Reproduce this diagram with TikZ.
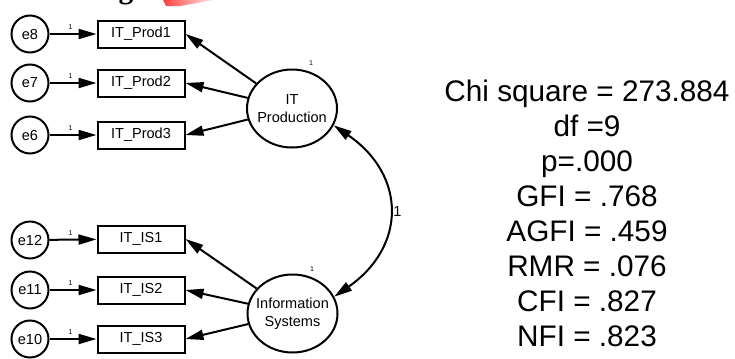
\documentclass[tikz,border=0pt]{standalone}
\usepackage{fontspec}
\setmainfont{Liberation Sans}
\newfontfamily\headfont{Liberation Serif}
\usetikzlibrary{arrows.meta,shapes.geometric}

\begin{document}
\begin{tikzpicture}[x=0.75pt,y=-0.75pt,
  line width=1.5pt,
  every node/.style={font=\fontsize{10.9}{13.5}\selectfont, inner sep=0pt},
  err/.style={draw, circle, minimum size=27.75pt},
  obs/.style={draw, rectangle, minimum width=65.25pt, minimum height=20.25pt},
  lat/.style={draw, ellipse, minimum width=67.5pt, minimum height=58.5pt},
  intxt/.style={align=center, font=\fontsize{10.9}{13.5}\selectfont},
  tip/.style={-{Triangle[length=13.5pt,width=7.5pt]}},
  both/.style={{Triangle[length=13.5pt,width=7.5pt]}-{Triangle[length=13.5pt,width=7.5pt]}},
  one/.style={font=\fontsize{5.3}{6}\selectfont},
  stat/.style={font=\fontsize{22.3}{26}\selectfont, anchor=base},
]
% page
\fill[white] (0,0) rectangle (735,354);

% remains of a heading cut off by the top edge
\begin{scope}
  \clip (0,0) rectangle (735,354);
  \begin{scope}
    \clip (163,0) -- (214,0) -- (180,6) -- (166,6) -- cycle;
    \shade[left color=red!75!white, right color=red!8!white] (163,0) rectangle (214,6);
  \end{scope}
  \node[anchor=base, font=\headfont\bfseries\fontsize{22}{22}\selectfont] (head) at (126,-1.5) {g};
\end{scope}

% indicators of IT Production
\node[obs] (p1) at (141,34)  {IT\_Prod1};
\node[obs] (p2) at (141,83)  {IT\_Prod2};
\node[obs] (p3) at (141,135) {IT\_Prod3};
\node[err] (e8) at (30,34)  {e8};
\node[err] (e7) at (30,83)  {e7};
\node[err] (e6) at (30,135) {e6};

% indicators of Information Systems
\node[obs] (s1) at (141,239) {IT\_IS1};
\node[obs] (s2) at (141,290) {IT\_IS2};
\node[obs] (s3) at (141,339) {IT\_IS3};
\node[err] (e12) at (30,240) {e12};
\node[err] (e11) at (30,290) {e11};
\node[err] (e10) at (30,339) {e10};

% latent factors
\node[lat, label={[intxt]center:IT\\Production}] (itp) at (292,108.5) {};
\node[lat, label={[intxt]center:Information\\Systems}] (isy) at (292.5,313.5) {};
\node[one] (v1) at (311,63) {1};
\node[one] (v2) at (312,269) {1};

% error terms
\foreach \e/\b in {e8/p1,e7/p2,e6/p3,e12/s1,e11/s2,e10/s3}
  \draw[tip] (\e) -- node[one, above=2.5pt, pos=0.45] {1} (\b);

% loadings
\foreach \b in {p1,p2,p3}
  \draw[tip] (itp) -- (\b.east);
\foreach \b in {s1,s2,s3}
  \draw[tip] (isy) -- (\b.east);

% factor covariance
\draw[both] (itp.-22) .. controls +(73,50) and +(72,-50) .. (isy.22)
  node[pos=0.5, right=3pt] (cv) {1};

% fit indices
\foreach \t [count=\i from 0] in {Chi square = 273.884, df =9, p=.000,
    GFI = .768, AGFI = .459, RMR = .076, CFI = .827, NFI = .823}
  \node[stat] (fit\i) at (587,101+35*\i) {\t};
\end{tikzpicture}
\end{document}
